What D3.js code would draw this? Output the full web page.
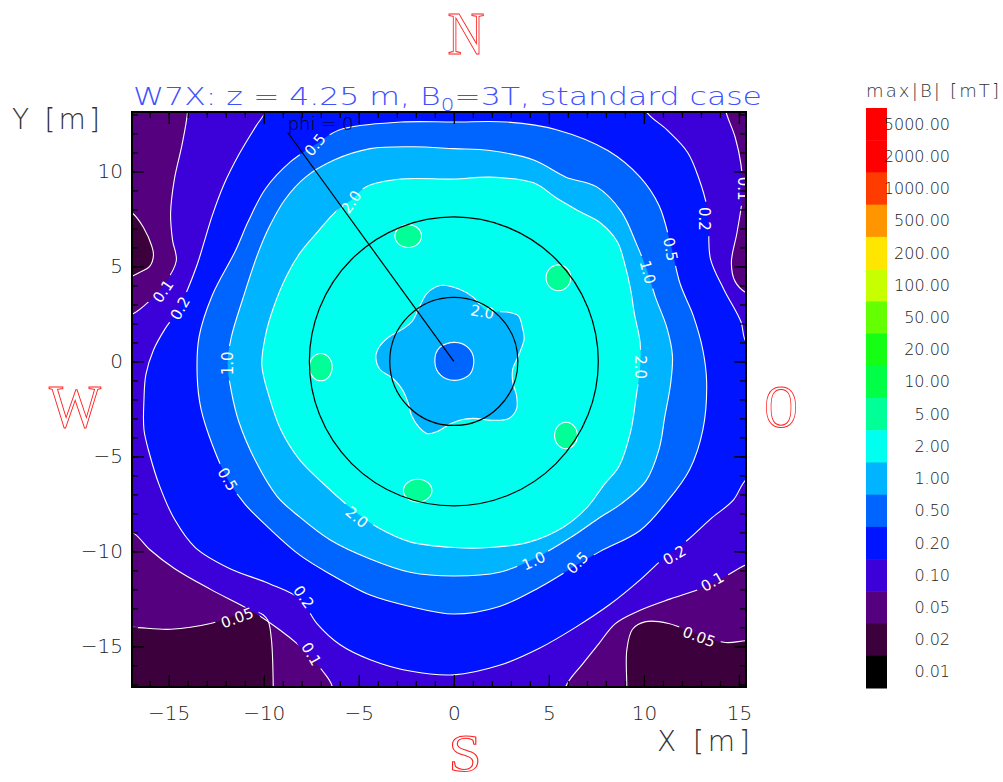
<!DOCTYPE html>
<html>
<head>
<meta charset="utf-8">
<script src="https://cdn.jsdelivr.net/npm/d3@7"></script>
<style>
  body { margin: 0; background: #fff; }
  text { font-family: "DejaVu Sans", sans-serif; font-weight: 200; }
</style>
</head>
<body>
<div id="chart"></div>
<script>
// colour bar levels (mT) and their colours, top to bottom
const barLevels = [5000, 2000, 1000, 500, 200, 100, 50, 20, 10, 5, 2, 1, 0.5, 0.2, 0.1, 0.05, 0.02, 0.01];
const barColors = ["#ff0000", "#ff0000", "#ff3c00", "#ff9600", "#ffe600", "#c8ff00", "#64ff00", "#14ff14",
                   "#00ff46", "#00ff96", "#00ffee", "#00b4ff", "#0064ff", "#0014ff", "#3c00d8", "#55007f",
                   "#3c003c", "#000000"];

// contour lines, [x, y] in metres
const c002Pockets = [
  [[-18.5, 8.6], [-16.9, 7.8], [-16.3, 7.0], [-15.9, 6.1], [-15.8, 5.6], [-16.0, 5.0], [-16.5, 4.7], [-16.9, 4.5], [-18.5, 3.9]],
  [[-18.5, -14.0], [-16.9, -14.0], [-14.9, -14.1], [-12.8, -13.8], [-11.3, -13.3], [-10.3, -13.2], [-9.8, -13.6], [-9.6, -14.6], [-9.5, -17.1], [-9.5, -18.5], [-18.5, -18.5]],
  [[9.1, -18.5], [9.1, -17.1], [9.1, -15.2], [9.4, -14.1], [10.1, -13.7], [11.3, -13.8], [12.9, -14.4], [14.3, -14.8], [15.4, -14.7], [16.6, -14.7], [16.6, -18.5]]
];
const c01 = [[-14.0, 13.2], [-14.0, 14.6], [14.1, 14.6], [14.3, 13.2], [14.8, 11.8], [15.1, 10.4], [15.2, 8.9], [14.9, 6.8],
  [14.6, 5.2], [14.8, 4.2], [15.4, 3.6], [16.6, 3.3], [16.6, -10.4], [15.4, -10.7], [14.3, -11.3], [12.9, -12.0], [11.4, -12.5],
  [9.8, -13.1], [8.5, -13.8], [7.6, -14.9], [6.8, -15.9], [5.9, -17.1], [5.8, -18.3], [-6.4, -18.3], [-6.4, -17.1], [-6.9, -16.3],
  [-7.6, -15.5], [-8.2, -14.9], [-9.2, -14.1], [-10.7, -13.1], [-12.8, -12.0], [-14.7, -10.9], [-16.0, -9.9], [-16.9, -9.0],
  [-18.1, -8.7], [-18.1, 2.2], [-16.9, 2.5], [-16.0, 3.2], [-15.2, 4.1], [-14.6, 5.3], [-14.8, 6.4], [-14.9, 7.8], [-14.7, 9.6], [-14.3, 11.4]];
const c02 = [[-9.9, 13.2], [-9.9, 14.6], [9.9, 14.6], [10.1, 13.2], [11.2, 12.2], [12.3, 11.0], [12.9, 9.6], [13.3, 8.2], [13.4, 7.2],
  [13.5, 5.4], [14.2, 3.8], [15.1, 2.1], [15.4, 1.0], [16.6, 0.6], [16.6, -5.7], [15.4, -6.2], [14.7, -7.3], [13.5, -8.3], [12.3, -9.4],
  [11.1, -10.3], [9.8, -11.5], [8.2, -12.8], [6.4, -14.0], [4.5, -15.1], [2.4, -16.0], [0.0, -16.5], [-2.3, -16.3], [-4.4, -15.7],
  [-6.0, -14.9], [-7.2, -13.8], [-8.1, -12.5], [-9.7, -11.7], [-11.8, -10.9], [-13.6, -9.8], [-14.7, -8.3], [-15.5, -6.5], [-16.0, -4.9],
  [-16.3, -3.6], [-16.3, -2.0], [-16.2, -0.7], [-15.8, 0.6], [-15.2, 1.7], [-14.5, 2.7], [-14.0, 3.8], [-13.5, 5.1], [-13.1, 6.4],
  [-12.7, 7.7], [-12.1, 9.3], [-11.3, 10.9], [-10.4, 12.4]];
const c05 = [[0.0, 12.6], [2.8, 12.6], [5.4, 12.2], [8.1, 11.1], [9.8, 9.7], [10.8, 8.2], [11.4, 6.2], [11.9, 4.1], [12.6, 2.4],
  [13.1, 0.6], [13.3, -1.1], [13.1, -3.6], [12.4, -5.7], [11.2, -7.4], [9.8, -8.9], [7.7, -10.0], [6.5, -10.7], [4.5, -11.9],
  [2.4, -12.9], [0.0, -13.3], [-2.3, -12.9], [-4.4, -12.3], [-6.5, -11.2], [-8.1, -10.2], [-9.7, -8.8], [-11.0, -7.5], [-11.9, -6.2],
  [-12.7, -4.4], [-13.3, -2.5], [-13.5, -0.8], [-13.4, 1.3], [-12.7, 3.5], [-11.5, 5.8], [-10.8, 7.4], [-9.9, 9.1], [-8.6, 10.5],
  [-7.3, 11.4], [-6.0, 12.2], [-2.8, 12.6]];
const c10 = [[0.0, 11.2], [1.9, 11.1], [4.2, 10.6], [5.9, 9.7], [7.5, 9.2], [8.8, 7.9], [9.6, 6.2], [10.2, 4.7], [10.6, 3.4],
  [11.2, 1.8], [11.5, 0.3], [11.4, -1.2], [11.1, -2.9], [10.8, -4.6], [10.1, -6.3], [8.8, -7.5], [7.7, -8.2], [6.1, -9.3],
  [4.2, -10.4], [2.4, -11.1], [0.0, -11.3], [-2.3, -11.1], [-4.4, -10.4], [-6.5, -9.4], [-8.1, -8.2], [-9.3, -7.1], [-10.4, -5.3],
  [-11.3, -3.2], [-11.7, -1.6], [-11.9, -0.1], [-11.7, 1.3], [-11.1, 3.3], [-10.3, 5.7], [-9.7, 7.1], [-8.9, 8.5], [-7.8, 9.7],
  [-6.3, 10.6], [-4.4, 11.2], [-2.1, 11.3]];
const c20 = [[0.0, 9.6], [1.9, 9.7], [4.2, 9.4], [5.4, 8.6], [6.6, 7.9], [7.7, 7.3], [8.6, 6.3], [9.0, 5.1], [9.3, 3.8], [9.5, 2.5],
  [9.8, 1.0], [9.8, -0.3], [9.6, -1.8], [9.3, -3.7], [8.7, -5.5], [7.9, -6.5], [7.0, -7.7], [5.8, -8.7], [4.0, -9.5], [1.9, -9.8],
  [0.0, -9.8], [-2.3, -9.5], [-3.9, -8.8], [-5.2, -7.9], [-6.9, -6.4], [-8.1, -5.2], [-9.1, -3.6], [-9.7, -1.9], [-10.1, -0.2],
  [-9.9, 1.4], [-9.5, 2.8], [-8.8, 4.5], [-8.1, 5.7], [-7.1, 6.9], [-6.2, 7.9], [-5.4, 8.5], [-4.6, 9.2], [-2.8, 9.6]];
// inner 2.0 star and 1.0 core around the axis
const star20 = [[-0.7, 4.0], [0.3, 3.8], [1.0, 3.4], [1.7, 2.7], [2.8, 2.6], [3.4, 2.4], [3.6, 1.8], [3.7, 1.2], [3.4, 0.3],
  [3.1, -0.4], [3.1, -1.1], [3.3, -1.8], [3.3, -2.5], [2.9, -3.0], [2.1, -3.1], [1.0, -3.0], [0.3, -3.1], [-0.2, -3.3], [-0.9, -3.7],
  [-1.4, -3.8], [-1.8, -3.5], [-2.2, -2.9], [-2.4, -2.2], [-2.7, -1.5], [-3.2, -0.9], [-3.9, -0.4], [-4.1, 0.3], [-3.9, 0.8],
  [-3.4, 1.3], [-2.7, 1.7], [-2.2, 2.1], [-1.8, 2.9], [-1.4, 3.6]];
const core10 = [[0.05, 1.0], [0.74, 0.74], [1.05, 0.1], [0.84, -0.68], [0.05, -1.0], [-0.68, -0.74], [-1.0, 0.0], [-0.74, 0.74]];
// 5 mT islands: centre x, centre y, half width, half height (m)
const blobs5 = [[-2.4, 6.6, 0.7, 0.6], [5.5, 4.4, 0.65, 0.68], [-7.0, -0.3, 0.6, 0.72], [5.9, -3.9, 0.6, 0.7], [-1.9, -6.8, 0.75, 0.6]];

// contour labels: text, x, y, angle
const contourLabels = [
  ["0.5", -7.3, 11.4, -50], ["2.0", -5.4, 8.4, -55], ["0.2", 13.2, 7.5, 90], ["0.5", 11.4, 5.9, 80], ["1.0", 10.2, 4.7, 75],
  ["0.1", 15.2, 9.1, 90], ["2.0", 9.8, -0.3, 90], ["2.0", 1.5, 2.6, 10], ["0.1", -15.3, 3.7, -55], ["0.2", -14.4, 2.8, -60],
  ["1.0", -11.9, -0.1, -90], ["0.5", -11.9, -6.2, 60], ["2.0", -5.1, -8.2, 40], ["1.0", 4.2, -10.5, -25], ["0.5", 6.5, -10.6, -45],
  ["0.2", -7.9, -12.4, 55], ["0.1", -7.5, -15.4, 60], ["0.05", -11.4, -13.5, -20], ["0.2", 11.6, -10.2, -30],
  ["0.1", 13.6, -11.6, -30], ["0.05", 12.9, -14.5, 20]
];

const circleRadii = [3.37, 7.6];
const phiLine = [[0, 0], [-8.74, 12.05]];

const xMajor = [-15, -10, -5, 0, 5, 10, 15];
const yMajor = [-15, -10, -5, 0, 5, 10];
const xMinor = d3.range(-16, 16);
const yMinor = d3.range(-17, 14);

const W = 1003, H = 782;
const plot = { left: 132, right: 746, top: 112, bottom: 687 };

const svg = d3.select("#chart").append("svg")
  .attr("width", W).attr("height", H)
  .attr("viewBox", [0, 0, W, H]);

const x = d3.scaleLinear().domain([-16.93, 15.37]).range([plot.left, plot.right]);
const y = d3.scaleLinear().domain([-17.14, 13.13]).range([plot.bottom, plot.top]);
const colorOf = new Map(barLevels.map((l, i) => [l, barColors[i]]));
const labelTransform = d => `translate(${x(d[1])},${y(d[2])}) rotate(${d[3]})`;

const defs = svg.append("defs");
defs.append("clipPath").attr("id", "plotclip")
  .append("rect")
  .attr("x", plot.left).attr("y", plot.top)
  .attr("width", plot.right - plot.left).attr("height", plot.bottom - plot.top);

// gaps in the contour lines behind their labels
const gapMask = defs.append("mask").attr("id", "labelgap")
  .attr("maskUnits", "userSpaceOnUse")
  .attr("x", 0).attr("y", 0).attr("width", W).attr("height", H);
gapMask.append("rect").attr("width", W).attr("height", H).attr("fill", "#fff");
gapMask.selectAll(".gap")
  .data(contourLabels)
  .enter()
  .append("rect")
  .attr("class", "gap")
  .attr("transform", labelTransform)
  .attr("x", d => -(d[0].length * 9.5 + 6) / 2)
  .attr("y", -7)
  .attr("width", d => d[0].length * 9.5 + 6)
  .attr("height", 14)
  .attr("fill", "#000");

const field = svg.append("g").attr("clip-path", "url(#plotclip)");
const fills = field.append("g");
const lines = field.append("g").attr("mask", "url(#labelgap)");

const closed = d3.line()
  .x(d => x(d[0])).y(d => y(d[1]))
  .curve(d3.curveCatmullRomClosed.alpha(0.5));

fills.append("rect")
  .attr("x", plot.left).attr("y", plot.top)
  .attr("width", plot.right - plot.left).attr("height", plot.bottom - plot.top)
  .attr("fill", colorOf.get(0.05));

function band(points, level) {
  fills.append("path")
    .attr("d", closed(points))
    .attr("fill", colorOf.get(level));
  lines.append("path")
    .attr("d", closed(points))
    .attr("fill", "none")
    .attr("stroke", "#fff")
    .attr("stroke-width", 1.1);
}

c002Pockets.forEach(p => band(p, 0.02));
band(c01, 0.1);
band(c02, 0.2);
band(c05, 0.5);
band(c10, 1);
band(c20, 2);

fills.selectAll(".blob")
  .data(blobs5)
  .enter()
  .append("ellipse")
  .attr("class", "blob")
  .attr("cx", d => x(d[0]))
  .attr("cy", d => y(d[1]))
  .attr("rx", d => x(d[2]) - x(0))
  .attr("ry", d => x(d[3]) - x(0))
  .attr("fill", colorOf.get(5))
  .attr("stroke", "#fff")
  .attr("stroke-width", 1.1);

band(star20, 1);
band(core10, 0.5);

field.selectAll(".clabel")
  .data(contourLabels)
  .enter()
  .append("text")
  .attr("class", "clabel")
  .attr("transform", labelTransform)
  .attr("text-anchor", "middle")
  .attr("dy", "0.35em")
  .attr("font-size", 15)
  .style("font-weight", "normal")
  .attr("fill", "#fff")
  .text(d => d[0]);

// black overlays
field.selectAll(".ring")
  .data(circleRadii)
  .enter()
  .append("circle")
  .attr("cx", x(0)).attr("cy", y(0))
  .attr("r", d => x(d) - x(0))
  .attr("fill", "none")
  .attr("stroke", "#000")
  .attr("stroke-width", 1.2);

field.append("path")
  .attr("d", d3.line().x(d => x(d[0])).y(d => y(d[1]))(phiLine))
  .attr("stroke", "#000")
  .attr("stroke-width", 1.2);

svg.append("text")
  .attr("x", x(phiLine[1][0]))
  .attr("y", y(phiLine[1][1]) - 3)
  .attr("font-size", 18)
  .attr("fill", "#000")
  .text("phi = 0");

// axes, ticks on all four sides pointing inwards
function styleAxis(g) {
  g.select(".domain").remove();
  g.selectAll(".tick line").attr("stroke", "#000").attr("stroke-width", 1.3);
  g.selectAll(".tick text").attr("font-size", 20).attr("fill", "#222");
}

svg.append("g").attr("transform", `translate(0,${plot.bottom})`)
  .call(d3.axisBottom(x).tickValues(xMajor).tickSize(-12).tickPadding(19).tickFormat(d3.format("d")))
  .call(styleAxis);
svg.append("g").attr("transform", `translate(0,${plot.bottom})`)
  .call(d3.axisBottom(x).tickValues(xMinor).tickSize(-6).tickFormat(""))
  .call(styleAxis);
svg.append("g").attr("transform", `translate(0,${plot.top})`)
  .call(d3.axisTop(x).tickValues(xMajor).tickSize(-12).tickFormat(""))
  .call(styleAxis);
svg.append("g").attr("transform", `translate(0,${plot.top})`)
  .call(d3.axisTop(x).tickValues(xMinor).tickSize(-6).tickFormat(""))
  .call(styleAxis);

svg.append("g").attr("transform", `translate(${plot.left},0)`)
  .call(d3.axisLeft(y).tickValues(yMajor).tickSize(-12).tickPadding(9).tickFormat(d3.format("d")))
  .call(styleAxis);
svg.append("g").attr("transform", `translate(${plot.left},0)`)
  .call(d3.axisLeft(y).tickValues(yMinor).tickSize(-6).tickFormat(""))
  .call(styleAxis);
svg.append("g").attr("transform", `translate(${plot.right},0)`)
  .call(d3.axisRight(y).tickValues(yMajor).tickSize(-12).tickFormat(""))
  .call(styleAxis);
svg.append("g").attr("transform", `translate(${plot.right},0)`)
  .call(d3.axisRight(y).tickValues(yMinor).tickSize(-6).tickFormat(""))
  .call(styleAxis);

svg.append("rect")
  .attr("x", plot.left).attr("y", plot.top)
  .attr("width", plot.right - plot.left).attr("height", plot.bottom - plot.top)
  .attr("fill", "none")
  .attr("stroke", "#000")
  .attr("stroke-width", 2);

// titles
const title = svg.append("text")
  .attr("x", 133).attr("y", 105)
  .attr("font-size", 25)
  .attr("fill", "#4050ff")
  .attr("textLength", 629)
  .attr("lengthAdjust", "spacingAndGlyphs");
title.append("tspan").text("W7X: z = 4.25 m, B");
title.append("tspan").attr("font-size", 17).attr("dy", 6).text("0");
title.append("tspan").attr("dy", -6).text("=3T, standard case");

svg.append("text").attr("x", 12).attr("y", 129)
  .attr("font-size", 28).attr("fill", "#333")
  .attr("textLength", 88).attr("lengthAdjust", "spacing")
  .text("Y [m]");
svg.append("text").attr("x", 657).attr("y", 751)
  .attr("font-size", 28).attr("fill", "#333")
  .attr("textLength", 93).attr("lengthAdjust", "spacing")
  .text("X [m]");

// compass letters: letter, centre x, baseline y, width, size
const compass = [["N", 466, 54, 37, 62], ["S", 465, 771, 33, 52], ["W", 75, 427, 52, 62], ["O", 781, 427, 33, 62]];
svg.selectAll(".compass")
  .data(compass)
  .enter()
  .append("text")
  .attr("class", "compass")
  .attr("x", d => d[1] - d[3] / 2).attr("y", d => d[2])
  .attr("textLength", d => d[3])
  .attr("lengthAdjust", "spacingAndGlyphs")
  .style("font-family", "\"Liberation Serif\", serif")
  .style("font-weight", "normal")
  .attr("font-size", d => d[4])
  .attr("fill", "none")
  .attr("stroke", "#ff2020")
  .attr("stroke-width", 1)
  .text(d => d[0]);

// colour bar
const bar = d3.scaleBand().domain(barLevels).range([108, 688]);
const cb = svg.append("g");
cb.selectAll("rect")
  .data(barLevels)
  .enter()
  .append("rect")
  .attr("x", 866)
  .attr("y", d => bar(d))
  .attr("width", 21)
  .attr("height", bar.bandwidth() + 0.5)
  .attr("fill", d => colorOf.get(d));
cb.selectAll("text")
  .data(barLevels)
  .enter()
  .append("text")
  .attr("x", 950)
  .attr("y", d => bar(d) + bar.bandwidth() / 2)
  .attr("dy", "0.35em")
  .attr("text-anchor", "end")
  .attr("font-size", 16)
  .attr("fill", "#222")
  .text(d => d3.format(".2f")(d));
svg.append("text")
  .attr("x", 866).attr("y", 97)
  .attr("font-size", 18)
  .attr("fill", "#333")
  .attr("textLength", 133).attr("lengthAdjust", "spacing")
  .text("max|B| [mT]");
</script>
</body>
</html>
